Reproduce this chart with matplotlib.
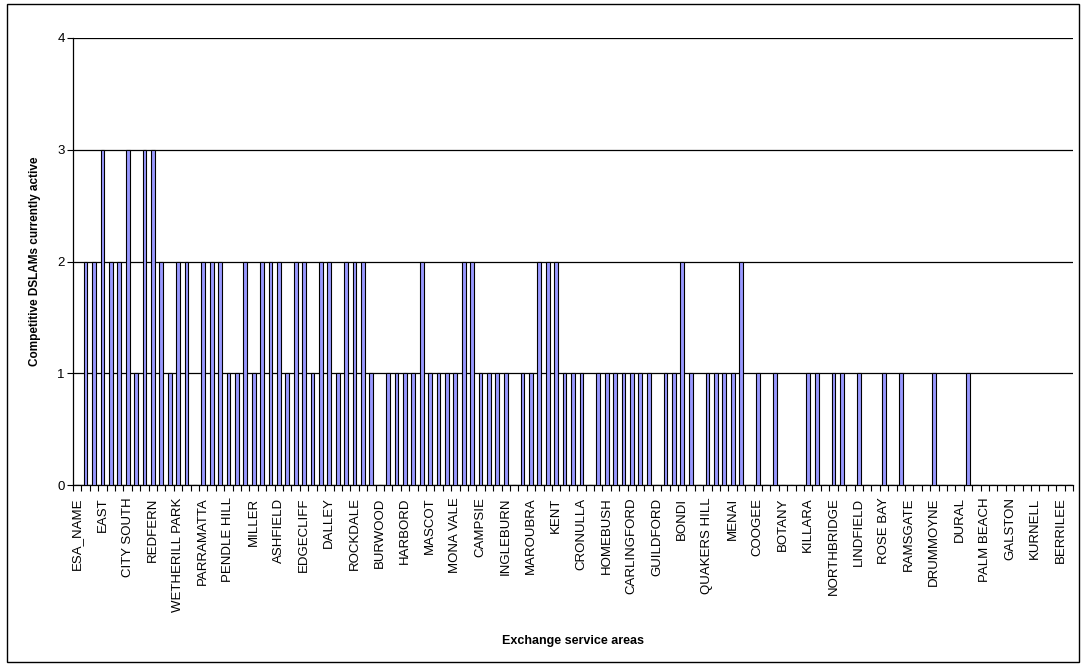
import matplotlib
matplotlib.use("Agg")
import matplotlib.pyplot as plt
import numpy as np
from matplotlib.patches import Rectangle

plt.rcParams['font.family'] = ['Liberation Sans', 'DejaVu Sans']

# every third exchange area gets a label on the axis
labels = ["ESA_NAME", "EAST", "CITY SOUTH", "REDFERN", "WETHERILL PARK", "PARRAMATTA",
          "PENDLE HILL", "MILLER", "ASHFIELD", "EDGECLIFF", "DALLEY", "ROCKDALE",
          "BURWOOD", "HARBORD", "MASCOT", "MONA VALE", "CAMPSIE", "INGLEBURN",
          "MAROUBRA", "KENT", "CRONULLA", "HOMEBUSH", "CARLINGFORD", "GUILDFORD",
          "BONDI", "QUAKERS HILL", "MENAI", "COOGEE", "BOTANY", "KILLARA",
          "NORTHBRIDGE", "LINDFIELD", "ROSE BAY", "RAMSGATE", "DRUMMOYNE", "DURAL",
          "PALM BEACH", "GALSTON", "KURNELL", "BERRILEE"]
label_step = 3

# competitive DSLAMs per exchange, in axis order (119 areas)
dslams = [0, 2, 2, 3, 2, 2, 3, 1, 3, 3,
          2, 1, 2, 2, 0, 2, 2, 2, 1, 1,
          2, 1, 2, 2, 2, 1, 2, 2, 1, 2,
          2, 1, 2, 2, 2, 1, 0, 1, 1, 1,
          1, 2, 1, 1, 1, 1, 2, 2, 1, 1,
          1, 1, 0, 1, 1, 2, 2, 2, 1, 1,
          1, 0, 1, 1, 1, 1, 1, 1, 1, 0,
          1, 1, 2, 1, 0, 1, 1, 1, 1, 2,
          0, 1, 0, 1, 0, 0, 0, 1, 1, 0,
          1, 1, 0, 1, 0, 0, 1, 0, 1, 0,
          0, 0, 1, 0, 0, 0, 1, 0, 0, 0,
          0, 0, 0, 0, 0, 0, 0, 0, 0]

n = len(dslams)
x = np.arange(n)

fig = plt.figure(figsize=(10.83, 6.65), dpi=100)
ax = fig.add_axes([73 / 1083, 1 - 485 / 665, 1000 / 1083, 447 / 665])

ax.bar(x, dslams, width=0.45, color='#9999FF', edgecolor='black', linewidth=0.8, zorder=3)

ax.set_xlim(-0.5, n - 0.5)
ax.set_ylim(0, 4)
ax.set_yticks([0, 1, 2, 3, 4])
ax.yaxis.grid(True, color='black', linewidth=0.9, zorder=0)
ax.tick_params(axis='y', labelsize=9.5, length=4, width=0.8, direction='out', pad=2)

ax.set_xticks(x[::label_step])
ax.set_xticklabels(labels, rotation=90, fontsize=9.5)
ax.set_xticks(np.arange(n + 1) - 0.5, minor=True)
ax.tick_params(axis='x', which='major', length=0, pad=9)
ax.tick_params(axis='x', which='minor', length=4, width=0.8, direction='out')

for side in ['top', 'right']:
    ax.spines[side].set_visible(False)
for side in ['left', 'bottom']:
    ax.spines[side].set_linewidth(0.9)

ax.set_ylabel('Competitive DSLAMs currently active', fontsize=8.5, fontweight='bold')
ax.yaxis.set_label_coords(-0.032, 0.5)
ax.set_xlabel('Exchange service areas', fontsize=9, fontweight='bold')
ax.xaxis.set_label_coords(0.5, -0.335)

# chart border
fig.patches.append(Rectangle((7 / 1083, 3 / 665), 1072 / 1083, 658 / 665,
                             transform=fig.transFigure, fill=False,
                             edgecolor='black', linewidth=1))

fig.savefig('out.png', dpi=100)
